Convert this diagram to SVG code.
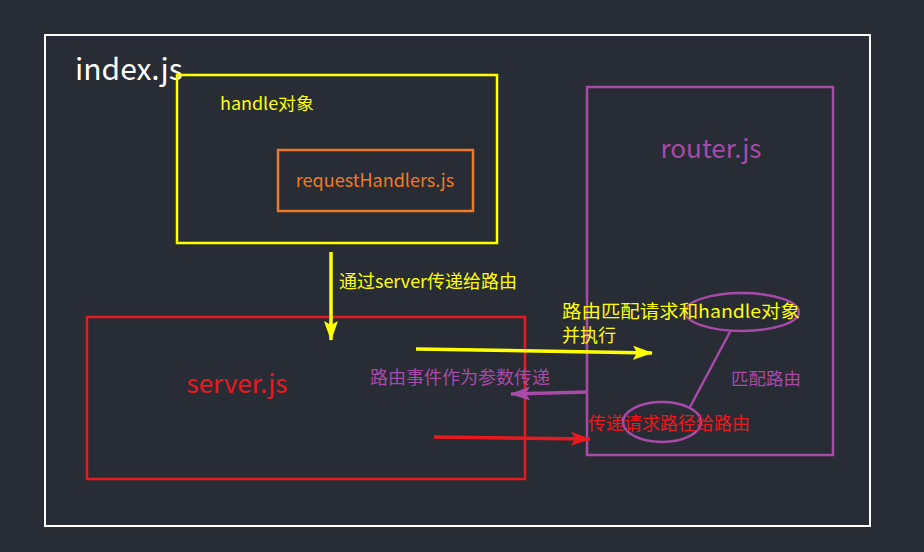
<svg xmlns="http://www.w3.org/2000/svg" width="924" height="552" viewBox="0 0 924 552">
<style>
  .t{font-family:"Microsoft YaHei","Noto Sans CJK SC","Open Sans",sans-serif}
  .box{fill:none}
  .y{fill:#ffff00}
  .p{fill:#a84aa8}
  .r{fill:#e8191f}
</style>
<defs>
  <marker id="ay" viewBox="0 0 20 14" refX="19" refY="7" markerWidth="20" markerHeight="14" markerUnits="userSpaceOnUse" orient="auto">
    <path d="M0,0 L20,7 L0,14 L4,7 Z" fill="#ffff00"/>
  </marker>
  <marker id="ap" viewBox="0 0 20 14" refX="19" refY="7" markerWidth="20" markerHeight="14" markerUnits="userSpaceOnUse" orient="auto">
    <path d="M0,0 L20,7 L0,14 L4,7 Z" fill="#a84aa8"/>
  </marker>
  <marker id="ar" viewBox="0 0 20 14" refX="19" refY="7" markerWidth="20" markerHeight="14" markerUnits="userSpaceOnUse" orient="auto">
    <path d="M0,0 L20,7 L0,14 L4,7 Z" fill="#e8191f"/>
  </marker>
</defs>
<rect width="924" height="552" fill="#282c34"/>
<g id="index">
  <rect x="45" y="35" width="825" height="491" class="box" stroke="#ffffff" stroke-width="2"/>
  <text x="75" y="80" class="t" font-size="30" fill="#ffffff">index.js</text>
</g>
<g id="handle">
  <rect x="177" y="75" width="320" height="168" class="box" stroke="#ffff00" stroke-width="2.5"/>
  <text x="220" y="110" class="t y" font-size="17" textLength="94" lengthAdjust="spacingAndGlyphs">handle对象</text>
</g>
<g id="requestHandlers">
  <rect x="278" y="150" width="195" height="61" class="box" stroke="#f07a24" stroke-width="2.5"/>
  <text x="375" y="187" class="t" font-size="18" fill="#f07a24" text-anchor="middle">requestHandlers.js</text>
</g>
<g id="server">
  <rect x="87" y="317" width="438" height="162" class="box" stroke="#e8191f" stroke-width="2.5"/>
  <text x="237" y="393" class="t r" font-size="26" text-anchor="middle">server.js</text>
</g>
<g id="router">
  <rect x="587" y="87" width="246" height="368" class="box" stroke="#a84aa8" stroke-width="2.5"/>
  <text x="711" y="158" class="t p" font-size="26" text-anchor="middle">router.js</text>
  <ellipse cx="742" cy="312" rx="57" ry="19" fill="none" stroke="#a84aa8" stroke-width="2.5"/>
  <ellipse cx="662" cy="422" rx="39" ry="20" fill="none" stroke="#a84aa8" stroke-width="2.5"/>
  <line x1="731" y1="330" x2="690" y2="407" stroke="#a84aa8" stroke-width="2.5"/>
  <text x="731" y="385" class="t p" font-size="17.5">匹配路由</text>
</g>
<g id="connectors">
  <line x1="331" y1="252" x2="331" y2="340" stroke="#ffff00" stroke-width="3.5" marker-end="url(#ay)"/>
  <text x="339" y="288" class="t y" font-size="18" textLength="178" lengthAdjust="spacingAndGlyphs">通过server传递给路由</text>
  <line x1="416" y1="349" x2="652" y2="353" stroke="#ffff00" stroke-width="3.5" marker-end="url(#ay)"/>
  <text x="562" y="318" class="t y" font-size="18" textLength="238" lengthAdjust="spacingAndGlyphs">路由匹配请求和handle对象</text>
  <text x="562" y="342" class="t y" font-size="18">并执行</text>
  <line x1="587" y1="392" x2="511" y2="394" stroke="#a84aa8" stroke-width="3.5" marker-end="url(#ap)"/>
  <text x="370" y="384" class="t p" font-size="18">路由事件作为参数传递</text>
  <line x1="434" y1="437" x2="590" y2="439" stroke="#e8191f" stroke-width="3.5" marker-end="url(#ar)"/>
  <text x="588" y="430" class="t r" font-size="18">传递请求路径给路由</text>
</g>
</svg>
